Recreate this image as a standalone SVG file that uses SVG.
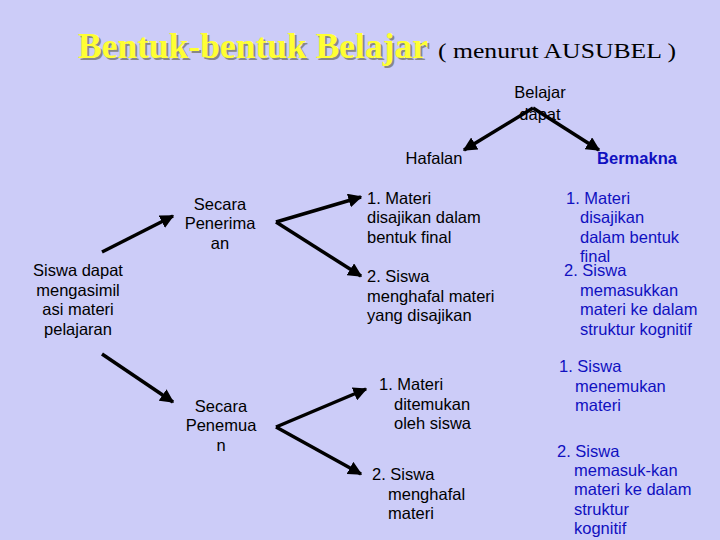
<svg xmlns="http://www.w3.org/2000/svg" width="720" height="540" viewBox="0 0 720 540">
<defs>
<marker id="ah" viewBox="0 0 10 10" refX="9" refY="5" markerWidth="4" markerHeight="4" orient="auto"><path d="M0,0L10,5L0,10z" fill="#000"/></marker>
<style>
.t{font-family:"Liberation Sans",Arial,sans-serif;font-size:16.5px;fill:#000}
.c{text-anchor:middle}
.b{fill:#1010c0}
.bb{font-weight:bold}
line{stroke:#000;stroke-width:3.5;marker-end:url(#ah)}
</style>
</defs>
<rect width="720" height="540" fill="#ccccf8"/>
<g id="title">
<text x="80" y="60" font-family="Liberation Serif,serif" font-size="36" font-weight="bold" fill="#888" textLength="350" lengthAdjust="spacingAndGlyphs">Bentuk-bentuk Belajar</text>
<text x="78" y="58" font-family="Liberation Serif,serif" font-size="36" font-weight="bold" fill="#ffff33" textLength="350" lengthAdjust="spacingAndGlyphs">Bentuk-bentuk Belajar</text>
<text x="438" y="58" font-family="Liberation Serif,serif" font-size="22" fill="#000" textLength="238" lengthAdjust="spacingAndGlyphs">( menurut AUSUBEL )</text>
</g>
<g id="connectors">
<line x1="533" y1="108" x2="464" y2="150"/>
<line x1="533" y1="108" x2="599" y2="150"/>
<line x1="102" y1="252" x2="173" y2="216"/>
<line x1="102" y1="354" x2="173" y2="402"/>
<line x1="276" y1="222" x2="361" y2="197"/>
<line x1="276" y1="222" x2="361" y2="276"/>
<line x1="276" y1="427" x2="366" y2="389"/>
<line x1="276" y1="427" x2="361" y2="474"/>
</g>
<g id="belajar"><text class="t c" x="540" y="98">Belajar</text><text class="t c" x="540" y="120">dapat</text></g>
<g id="hafalan"><text class="t c" x="434" y="164">Hafalan</text></g>
<g id="bermakna"><text class="t c b bb" x="637" y="164">Bermakna</text></g>
<g id="siswa"><text class="t c" x="78" y="276">Siswa dapat</text><text class="t c" x="78" y="296">mengasimil</text><text class="t c" x="78" y="315">asi materi</text><text class="t c" x="78" y="335">pelajaran</text></g>
<g id="penerimaan"><text class="t c" x="220" y="210">Secara</text><text class="t c" x="220" y="229">Penerima</text><text class="t c" x="220" y="249">an</text></g>
<g id="penemuan"><text class="t c" x="221" y="412">Secara</text><text class="t c" x="221" y="431">Penemua</text><text class="t c" x="221" y="451">n</text></g>
<g id="h1"><text class="t" x="367" y="204">1. Materi</text><text class="t" x="367" y="223">disajikan dalam</text><text class="t" x="367" y="243">bentuk final</text></g>
<g id="h2"><text class="t" x="367" y="282">2. Siswa</text><text class="t" x="367" y="302">menghafal materi</text><text class="t" x="367" y="321">yang disajikan</text></g>
<g id="h3"><text class="t" x="379" y="390">1. Materi</text><text class="t" x="394" y="410">ditemukan</text><text class="t" x="394" y="429">oleh siswa</text></g>
<g id="h4"><text class="t" x="372" y="480">2. Siswa</text><text class="t" x="388" y="500">menghafal</text><text class="t" x="388" y="519">materi</text></g>
<g id="b1"><text class="t b" x="566" y="204">1. Materi</text><text class="t b" x="580" y="223">disajikan</text><text class="t b" x="580" y="243">dalam bentuk</text><text class="t b" x="580" y="262">final</text></g>
<g id="b2"><text class="t b" x="564" y="276">2. Siswa</text><text class="t b" x="580" y="296">memasukkan</text><text class="t b" x="580" y="315">materi ke dalam</text><text class="t b" x="580" y="335">struktur kognitif</text></g>
<g id="b3"><text class="t b" x="559" y="372">1. Siswa</text><text class="t b" x="575" y="392">menemukan</text><text class="t b" x="575" y="411">materi</text></g>
<g id="b4"><text class="t b" x="557" y="457">2. Siswa</text><text class="t b" x="574" y="476">memasuk-kan</text><text class="t b" x="574" y="495">materi ke dalam</text><text class="t b" x="574" y="515">struktur</text><text class="t b" x="574" y="534">kognitif</text></g>
</svg>
